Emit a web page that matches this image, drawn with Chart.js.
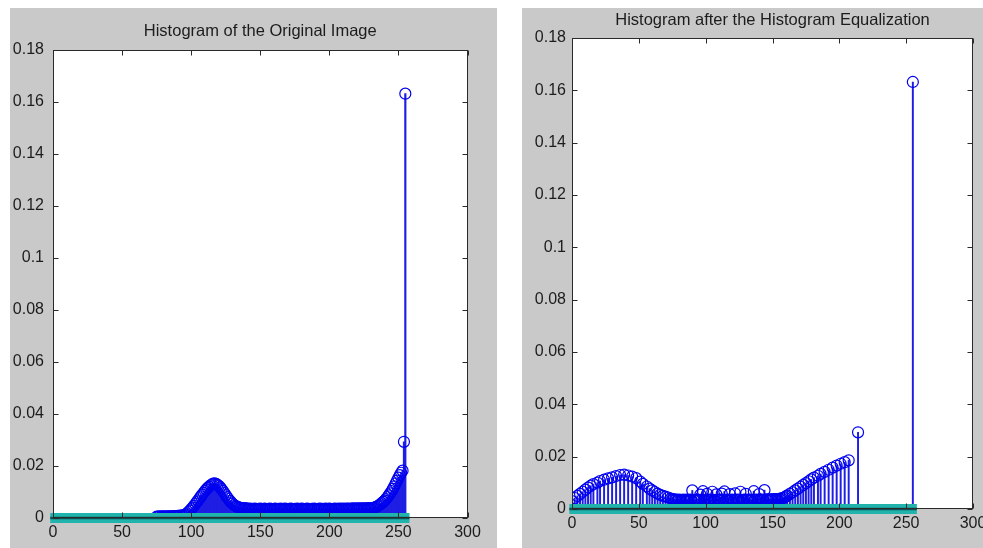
<!DOCTYPE html>
<html>
<head>
<meta charset="utf-8">
<script src="https://cdn.jsdelivr.net/npm/chart.js@4.4.1/dist/chart.umd.min.js"></script>
<style>
  html, body { margin: 0; padding: 0; background: #fff; overflow: hidden; width: 983px; height: 548px; }
  .panel { position: absolute; background: #c9c9c9; }
  #leftPanel { left: 10px; top: 8px; width: 487px; height: 540px; }
  #rightPanel { left: 522px; top: 8px; width: 470px; height: 540px; }
</style>
</head>
<body>
<div class="panel" id="leftPanel"><canvas id="origChart" width="487" height="540"></canvas></div>
<div class="panel" id="rightPanel"><canvas id="eqChart" width="470" height="540"></canvas></div>
<script>
// titles and axis ticks
const origTitle = 'Histogram of the Original Image';
const eqTitle = 'Histogram after the Histogram Equalization';
const xTicks = [0, 50, 100, 150, 200, 250, 300];
const xTickLabels = ['0', '50', '100', '150', '200', '250', '300'];
const yTicks = [0, 0.02, 0.04, 0.06, 0.08, 0.1, 0.12, 0.14, 0.16, 0.18];
const yTickLabels = ['0', '0.02', '0.04', '0.06', '0.08', '0.1', '0.12', '0.14', '0.16', '0.18'];

// original histogram, one value per grey level 0..255
const origCounts = [
  0,0,0,0,0,0,0,0,0,0, 0,0,0,0,0,0,0,0,0,0, 0,0,0,0,0,0,0,0,0,0,
  0,0,0,0,0,0,0,0,0,0, 0,0,0,0,0,0,0,0,0,0, 0,0,0,0,0,0,0,0,0,0,
  0,0,0,0,0,0,0,0,0,0, 0,0,0,0,0,
  0.0005,0.0005,0.0006,0.0005,0.0006,0.0006,0.0005,0.0006,0.0006,0.0006,
  0.0006,0.0006,0.0007,0.0007,0.0007,0.0008,0.0008,0.0009,0.0009,0.0010,
  0.0011,0.0014,0.0018,0.0023,0.0028,0.0034,0.0040,0.0047,0.0054,0.0061,
  0.0068,0.0076,0.0083,0.0090,0.0097,0.0104,0.0110,0.0116,0.0121,0.0126,
  0.0129,0.0132,0.0133,0.0131,0.0128,0.0124,0.0118,0.0111,0.0104,0.0096,
  0.0088,0.0080,0.0073,0.0066,0.0060,0.0055,0.0050,0.0047,0.0044,0.0042,
  0.0040,0.0039,0.0038,0.0038,0.0037,0.0037,
  0.0036,0.0035,0.0036,0.0034,0.0035,0.0036,0.0035,0.0034,0.0035,0.0036,
  0.0035,0.0034,0.0036,0.0035,0.0034,0.0035,0.0036,0.0035,0.0034,0.0035,
  0.0036,0.0034,0.0035,0.0035,0.0036,0.0034,0.0035,0.0036,0.0035,0.0034,
  0.0035,0.0036,0.0035,0.0034,0.0035,0.0035,0.0036,0.0034,0.0035,0.0036,
  0.0035,0.0034,0.0035,0.0036,0.0035,0.0034,0.0035,0.0035,0.0036,0.0035,
  0.0034,0.0035,0.0036,0.0035,0.0035,0.0034,0.0036,0.0035,0.0035,0.0036,
  0.0035,0.0034,0.0035,0.0036,0.0035,0.0035,0.0036,0.0035,0.0036,0.0035,
  0.0036,0.0035,0.0036,0.0036,0.0035,0.0036,0.0037,0.0036,0.0036,0.0037,
  0.0036,0.0037,0.0036,0.0037,0.0037,0.0036,0.0037,0.0038,0.0037,0.0037,
  0.0038,
  0.0039,0.0041,0.0043,0.0046,0.0049,0.0053,0.0057,0.0062,0.0067,0.0073,
  0.0080,0.0087,0.0095,0.0103,0.0112,0.0122,0.0133,0.0144,0.0155,0.0165,
  0.0174,0.0182,0.0293,0.1632
];

// equalized histogram: occupied grey levels and their values
const eqLevels = [
  0,2,4,6,8,10,12,14,16,19,21,24,27,30,33,36,39,42,45,48,51,53,56,58,60,62,64,66,68,70,72,
  74,75,76,77,78,79,80,81,82,83,84,85,86,87,88,89,90,91,92,93,
  94,95,96,97,98,99,100,101,102,103,104,105,106,107,108,109,110,111,112,113,
  114,115,116,117,118,119,120,121,122,123,124,125,126,127,128,129,130,131,132,133,
  134,135,136,137,138,139,140,141,142,143,144,145,146,147,148,149,150,151,152,153,
  154,155,156,157,158,159,160,161,
  163,165,167,169,171,173,175,177,179,181,184,186,189,192,195,198,201,204,207,214,255
];
const eqCounts = [
  0.0030,0.0042,0.0050,0.0058,0.0066,0.0074,0.0082,0.0089,0.0095,0.0101,0.0107,0.0112,0.0117,0.0121,0.0126,0.0130,
  0.0131,0.0128,0.0124,0.0118,0.0105,0.0096,0.0086,0.0078,0.0071,0.0065,0.0059,0.0054,0.0050,0.0047,0.0044,
  0.0040,0.0038,0.0037,0.0036,0.0036,0.0035,0.0036,0.0035,0.0034,0.0036,
  0.0035,0.0035,0.0036,0.0034,0.0035,0.0036,0.0071,0.0035,0.0034,0.0036,
  0.0035,0.0035,0.0055,0.0036,0.0068,0.0035,0.0034,0.0058,0.0035,0.0036,
  0.0035,0.0066,0.0035,0.0034,0.0056,0.0035,0.0036,0.0035,0.0059,0.0035,
  0.0067,0.0034,0.0036,0.0035,0.0057,0.0035,0.0036,0.0034,0.0060,0.0035,
  0.0036,0.0035,0.0066,0.0034,0.0035,0.0036,0.0058,0.0035,0.0036,0.0035,
  0.0034,0.0036,0.0068,0.0035,0.0036,0.0035,0.0057,0.0036,0.0035,0.0036,
  0.0072,0.0036,0.0037,0.0036,0.0037,0.0036,0.0037,0.0038,0.0037,0.0038,
  0.0038,0.0039,0.0040,0.0041,0.0043,0.0045,0.0048,0.0051,
  0.0058,0.0064,0.0071,0.0078,0.0085,0.0092,0.0099,0.0106,0.0113,0.0120,0.0127,0.0134,0.0142,0.0150,0.0158,
  0.0166,0.0173,0.0179,0.0186,0.0293,0.1632
];

// cyan zero line drawn under both plots
const baselineX = [-2, 258];

const fontFamily = '"Liberation Sans", Arial, Helvetica, sans-serif';
const textColor = '#1c1c1c';

// white axes box with inward ticks on all four sides, like matlab
const matlabBox = {
  id: 'matlabBox',
  beforeDatasetsDraw(chart) {
    const a = chart.chartArea;
    const ctx = chart.ctx;
    ctx.save();
    ctx.fillStyle = '#fff';
    ctx.fillRect(a.left, a.top, a.right - a.left, a.bottom - a.top);
    ctx.restore();
  },
  afterDraw(chart) {
    const { ctx, chartArea: a, scales } = chart;
    const L = Math.round(a.left) + 0.5, R = Math.round(a.right) - 0.5;
    const T = Math.round(a.top) + 0.5, B = Math.round(a.bottom) - 0.5;
    ctx.save();
    ctx.strokeStyle = '#2a2a2a';
    ctx.lineWidth = 1;
    ctx.beginPath();
    scales.x.ticks.forEach(t => {
      const px = Math.round(scales.x.getPixelForValue(t.value)) + 0.5;
      ctx.moveTo(px, T); ctx.lineTo(px, T + 5);
      ctx.moveTo(px, B); ctx.lineTo(px, B - 5);
    });
    scales.y.ticks.forEach(t => {
      const py = Math.round(scales.y.getPixelForValue(t.value)) + 0.5;
      ctx.moveTo(L, py); ctx.lineTo(L + 5, py);
      ctx.moveTo(R, py); ctx.lineTo(R - 5, py);
    });
    ctx.stroke();
    ctx.strokeRect(L, T, R - L, B - T);
    ctx.restore();
  }
};

function makeChart(id, title, levels, counts, lay) {
  const stems = [];
  levels.forEach((x, i) => { if (counts[i] > 0) stems.push({ x: x, y: counts[i] }); });
  const base = baselineX.map(x => ({ x: x, y: 0 }));

  return new Chart(document.getElementById(id), {
    type: 'scatter',
    data: {
      datasets: [
        {
          type: 'bar',
          data: stems,
          backgroundColor: 'rgb(30,30,228)',
          borderWidth: 0,
          barThickness: lay.stemWidth,
          grouped: false,
          order: 3
        },
        {
          type: 'scatter',
          data: stems,
          pointStyle: 'circle',
          pointRadius: 5.5,
          pointBorderWidth: 1.2,
          pointBackgroundColor: 'rgba(0,0,0,0)',
          pointBorderColor: 'rgb(0,0,240)',
          order: 2
        },
        {
          type: 'line',
          data: base,
          borderColor: 'rgb(32,180,172)',
          borderWidth: 10,
          pointRadius: 0,
          clip: false,
          order: 1
        },
        {
          type: 'line',
          data: base,
          borderColor: 'rgb(14,78,84)',
          borderWidth: 2.5,
          pointRadius: 0,
          clip: false,
          order: 0
        }
      ]
    },
    options: {
      responsive: false,
      animation: false,
      events: [],
      layout: { padding: { left: 0, right: lay.padRight, top: 0, bottom: 0 } },
      plugins: {
        legend: { display: false },
        tooltip: { enabled: false },
        title: {
          display: true,
          text: title,
          fullSize: false,
          color: textColor,
          font: { family: fontFamily, size: 16.5, weight: 'normal', lineHeight: 1.2 },
          padding: { top: lay.titleTop, bottom: lay.titleBottom }
        }
      },
      scales: {
        x: {
          type: 'linear',
          min: 0,
          max: 300,
          offset: false,
          afterBuildTicks: s => { s.ticks = xTicks.map(v => ({ value: v })); },
          afterFit: s => { s.height = lay.xAxisHeight; },
          ticks: {
            callback: (v, i) => xTickLabels[i],
            color: textColor,
            font: { family: fontFamily, size: 16 },
            padding: lay.xPad,
            maxRotation: 0,
            autoSkip: false
          },
          grid: { display: false, drawTicks: false, offset: false },
          border: { display: false }
        },
        y: {
          type: 'linear',
          min: 0,
          max: 0.18,
          afterBuildTicks: s => { s.ticks = yTicks.map(v => ({ value: v })); },
          afterFit: s => { s.width = lay.yAxisWidth; },
          ticks: {
            callback: (v, i) => yTickLabels[i],
            color: textColor,
            font: { family: fontFamily, size: 16 },
            padding: lay.yPad,
            autoSkip: false
          },
          grid: { display: false, drawTicks: false },
          border: { display: false }
        }
      }
    },
    plugins: [matlabBox]
  });
}

makeChart('origChart', origTitle, origCounts.map((v, i) => i), origCounts, {
  stemWidth: 1.5, padRight: 29.5, titleTop: 13.1, titleBottom: 9.1,
  xAxisHeight: 30, yAxisWidth: 43, xPad: 5, yPad: 9
});

makeChart('eqChart', eqTitle, eqLevels, eqCounts, {
  stemWidth: 1.3, padRight: 19, titleTop: 2.1, titleBottom: 8.1,
  xAxisHeight: 39, yAxisWidth: 50, xPad: 4.5, yPad: 6
});
</script>
</body>
</html>
